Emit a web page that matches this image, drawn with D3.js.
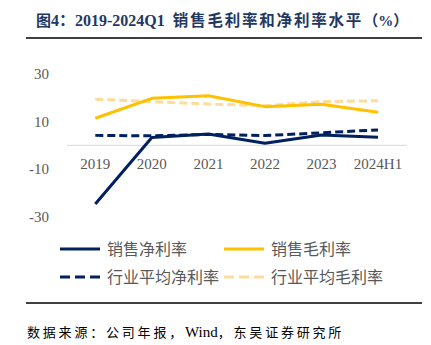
<!DOCTYPE html>
<meta charset="utf-8">
<head>
    <script type="text/javascript" src="https://cdn.jsdelivr.net/npm/d3@7/dist/d3.min.js"></script>
    <style>
        body { margin: 0; background: #fff; }
        text { white-space: pre; }
    </style>
</head>
<body>
<div id="chart"></div>
</body>
<script>
    // data
    var years = ["2019", "2020", "2021", "2022", "2023", "2024H1"];
    var netMargin = [-24.7, 3.3, 4.8, 0.9, 4.4, 3.4];
    var grossMargin = [11.4, 19.8, 20.9, 16.3, 17.3, 13.9];
    var indNetMargin = [4.2, 4.0, 4.6, 4.1, 5.3, 6.5];
    var indGrossMargin = [19.4, 18.4, 17.4, 16.7, 18.4, 18.8];
    var yTicks = [30, 10, -10, -30];

    var series = [
        {name: "销售净利率", values: netMargin, color: "#002060", dash: null},
        {name: "销售毛利率", values: grossMargin, color: "#FFC000", dash: null},
        {name: "行业平均净利率", values: indNetMargin, color: "#002060", dash: "8,4"},
        {name: "行业平均毛利率", values: indGrossMargin, color: "#FFDB9A", dash: "8,4"}
    ];

    var width = 431, height = 345;
    var svg = d3.select("#chart").append("svg")
        .attr("width", width)
        .attr("height", height);

    var serif = "'Liberation Serif', 'Noto Sans CJK SC', serif";

    // title, in pieces so CJK and latin get their own sizes
    var title = svg.append("text")
        .attr("x", 36).attr("y", 26)
        .attr("font-family", serif)
        .attr("font-weight", "bold")
        .attr("fill", "#1F3864");
    var titleParts = [
        {t: "图", size: 15, ls: 0},
        {t: "4：", size: 16, ls: 0},
        {t: "2019-2024Q1  ", size: 16, ls: 0},
        {t: "销售毛利率和净利率水平", size: 15.5, ls: 1.8},
        {t: "（%）", size: 15, ls: 0}
    ];
    titleParts.forEach(function (p) {
        title.append("tspan").attr("font-size", p.size)
            .attr("letter-spacing", p.ls).text(p.t);
    });

    svg.append("line").attr("x1", 26).attr("x2", 422).attr("y1", 38).attr("y2", 38)
        .attr("stroke", "#000").attr("stroke-width", 1.5);
    svg.append("line").attr("x1", 26).attr("x2", 422).attr("y1", 303).attr("y2", 303)
        .attr("stroke", "#000").attr("stroke-width", 1.5);

    var x = d3.scalePoint().domain(years).range([95.3, 378]);
    var y = d3.scaleLinear().domain([-30, 30]).range([216.6, 74.1]);

    // y labels
    svg.selectAll(".ylab").data(yTicks).enter().append("text")
        .attr("class", "ylab")
        .attr("x", 49).attr("y", d => y(d) + 5)
        .attr("text-anchor", "end")
        .attr("font-family", "'Liberation Serif', serif")
        .attr("font-size", 15)
        .attr("fill", "#595959")
        .text(d => d);

    // zero line
    svg.append("line")
        .attr("x1", 67).attr("x2", 407)
        .attr("y1", y(0)).attr("y2", y(0))
        .attr("stroke", "#D9D9D9").attr("stroke-width", 1);

    // x labels
    svg.selectAll(".xlab").data(years).enter().append("text")
        .attr("class", "xlab")
        .attr("x", d => x(d)).attr("y", 169)
        .attr("text-anchor", "middle")
        .attr("font-family", "'Liberation Serif', serif")
        .attr("font-size", 15)
        .attr("fill", "#595959")
        .text(d => d);

    var line = d3.line()
        .x((d, i) => x(years[i]))
        .y(d => y(d));

    // draw light dashed first, then the rest
    var order = [3, 1, 2, 0];
    order.forEach(function (k) {
        var s = series[k];
        svg.append("path")
            .datum(s.values)
            .attr("d", line)
            .attr("fill", "none")
            .attr("stroke", s.color)
            .attr("stroke-width", 3)
            .attr("stroke-linejoin", "round")
            .attr("stroke-dasharray", s.dash);
    });

    // legend
    var legPos = [[60, 249], [224, 249], [60, 277], [224, 277]];
    series.forEach(function (s, i) {
        var p = legPos[i];
        svg.append("line")
            .attr("x1", p[0]).attr("x2", p[0] + 40)
            .attr("y1", p[1]).attr("y2", p[1])
            .attr("stroke", s.color)
            .attr("stroke-width", 3)
            .attr("stroke-dasharray", s.dash ? "10,5" : null);
        svg.append("text")
            .attr("x", p[0] + 47).attr("y", p[1] + 6)
            .attr("font-family", "'Noto Sans CJK SC', sans-serif")
            .attr("font-size", 16)
            .attr("fill", "#595959")
            .text(s.name);
    });

    // source
    var src = svg.append("text")
        .attr("x", 27).attr("y", 337)
        .attr("font-family", serif)
        .attr("fill", "#000");
    var srcParts = [
        {t: "数据来源：公司年报，", size: 13, ls: 2.8},
        {t: "Wind", size: 15, ls: 0},
        {t: "，东吴证券研究所", size: 13, ls: 2.8}
    ];
    srcParts.forEach(function (p) {
        src.append("tspan").attr("font-size", p.size)
            .attr("letter-spacing", p.ls).text(p.t);
    });
</script>
</html>
